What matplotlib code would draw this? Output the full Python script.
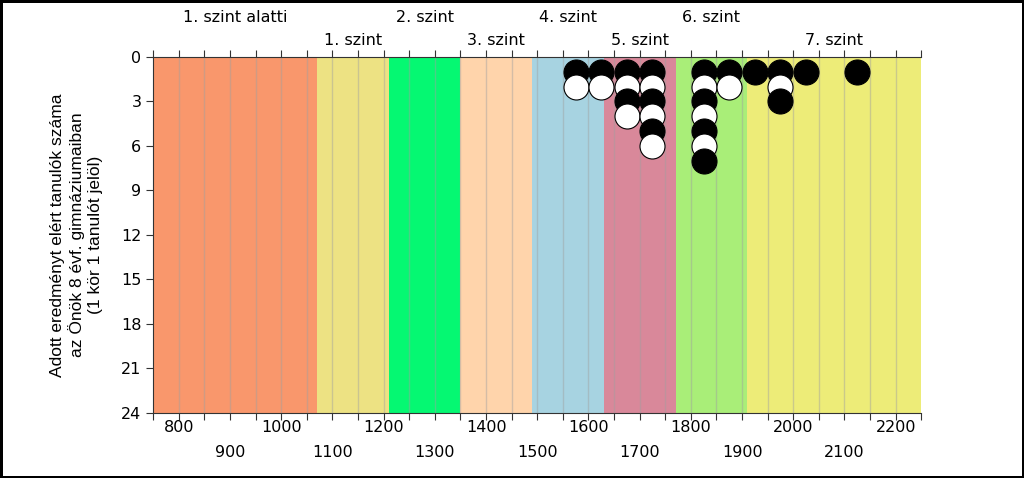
import numpy as np
import matplotlib.pyplot as plt

# score bands (level thresholds)
band_edges = [750, 1070, 1210, 1350, 1490, 1630, 1770, 1910, 2250]
band_colors = ['#F9976C', '#EDE283', '#05F872', '#FFD4AB',
               '#A7D3E1', '#D9889A', '#A9EE78', '#EDEC78']
band_labels = ['1. szint alatti', '1. szint', '2. szint', '3. szint',
               '4. szint', '5. szint', '6. szint', '7. szint']

# students per 50-point bin (bin centre -> count)
bin_centers = [1575, 1625, 1675, 1725, 1825, 1875, 1925, 1975, 2025, 2125]
bin_counts = [2, 2, 4, 6, 7, 2, 1, 3, 1, 1]

fig = plt.figure(figsize=(10.24, 4.78), dpi=100)
fig.patch.set_edgecolor('black')
fig.patch.set_linewidth(2.5)
ax = fig.add_axes([0.1497, 0.136, 0.75, 0.7448])

for i in range(len(band_colors)):
    ax.axvspan(band_edges[i], band_edges[i + 1], color=band_colors[i], lw=0, zorder=0)

for gx in np.arange(800, 2250, 50):
    ax.axvline(gx, color='#A0A0A0', alpha=0.45, lw=1, zorder=1)

for xc, n in zip(bin_centers, bin_counts):
    for k in range(n):
        fc = 'black' if k % 2 == 0 else 'white'
        ax.plot(xc, k + 1, 'o', ms=18, mfc=fc, mec='black', mew=0.8, zorder=3 + k)

ax.set_xlim(750, 2250)
ax.set_ylim(24, 0)
ax.set_yticks(np.arange(0, 25, 3))
ax.set_xticks(np.arange(750, 2251, 50))
ax.set_xticklabels([])
ax.tick_params(axis='both', direction='out', length=5, colors='#333333', labelsize=11.5)
ax.tick_params(axis='y', labelcolor='black')
ax.tick_params(axis='x', top=True)

for s in ['left', 'bottom', 'top']:
    ax.spines[s].set_color('#333333')
ax.spines['right'].set_visible(False)

# alternating two-row tick labels
for v in range(800, 2201, 100):
    yoff = -0.042 if (v // 100) % 2 == 0 else -0.11
    ax.text(v, yoff, str(v), transform=ax.get_xaxis_transform(),
            ha='center', va='center', fontsize=11.5)

# level names above the plot, alternating rows
for i, lab in enumerate(band_labels):
    xc = (band_edges[i] + band_edges[i + 1]) / 2
    yoff = 1.112 if i % 2 == 0 else 1.045
    ax.text(xc, yoff, lab, transform=ax.get_xaxis_transform(),
            ha='center', va='center', fontsize=11.5,
            family=['Liberation Sans Narrow', 'DejaVu Sans'])

ax.set_ylabel('Adott eredményt elért tanulók száma\naz Önök 8 évf. gimnáziumaiban\n(1 kör 1 tanulót jelöl)',
              fontsize=12.5, linespacing=1.2, family=['Liberation Sans', 'DejaVu Sans'])
ax.yaxis.set_label_coords(-0.066, 0.5)

fig.savefig('out.png', dpi=100, edgecolor=fig.get_edgecolor())
